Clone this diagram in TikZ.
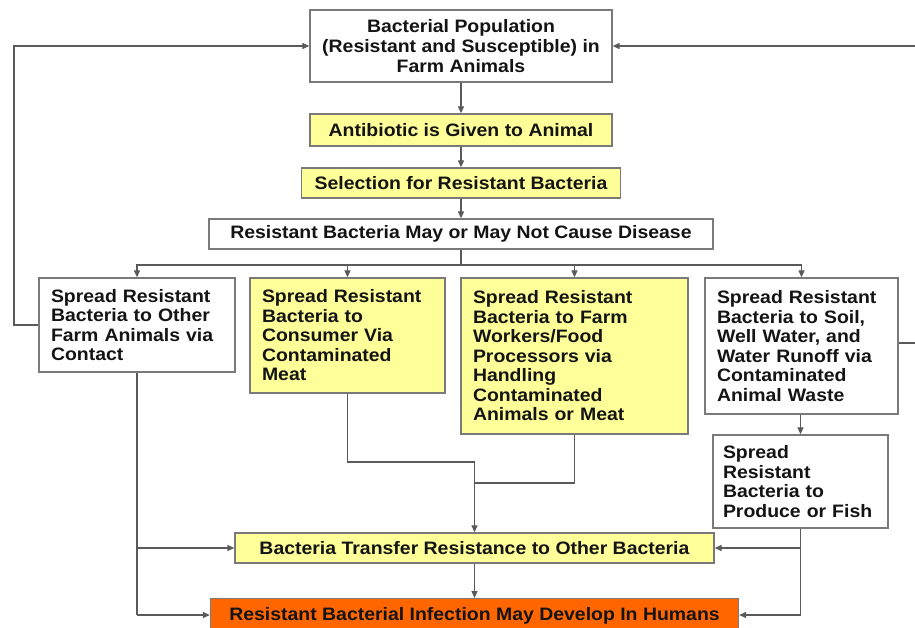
\documentclass[tikz,border=0pt]{standalone}
\usepackage{fontspec}
\setmainfont{Liberation Sans}[FakeStretch=1.08]
\usetikzlibrary{arrows.meta}
\definecolor{boxy}{HTML}{FFFF99}
\definecolor{boxo}{HTML}{FF6600}
\definecolor{edgec}{HTML}{7A7A7A}
\definecolor{linec}{HTML}{5A5A5A}
\definecolor{txtc}{HTML}{141414}
\begin{document}
\begin{tikzpicture}[x=1pt,y=-1pt,
  box/.style={draw=edgec, line width=1.3pt, text=txtc, font=\bfseries\fontsize{18}{19.5}\selectfont, inner sep=0pt, align=center},
  mbox/.style={box, align=left, inner xsep=12pt},
  ybox/.style={fill=boxy},
  wire/.style={draw=linec, line width=1.2pt},
  arr/.style={wire, -{Triangle[length=7pt,width=6pt]}}]
\useasboundingbox (0,0) rectangle (915,628);
\fill[white] (0,0) rectangle (915,628);

\node[box, minimum width=302pt, minimum height=72pt, font=\bfseries\fontsize{18}{20}\selectfont] (top) at (461,46) {Bacterial Population\\(Resistant and Susceptible) in\\Farm Animals};
\node[box, ybox, minimum width=302pt, minimum height=32pt] (anti) at (461,130) {Antibiotic is Given to Animal};
\node[box, ybox, minimum width=319pt, minimum height=30pt] (sel) at (461,183) {Selection for Resistant Bacteria};
\node[box, minimum width=504pt, minimum height=30pt] (may) at (461,234) {Resistant Bacteria May or May Not Cause Disease};

\node[mbox, text width=172pt, minimum height=94pt] (b1) at (137,325) {Spread Resistant\\Bacteria to Other\\Farm Animals via\\Contact};
\node[mbox, ybox, text width=171pt, minimum height=115pt] (b2) at (347.5,335.5) {Spread Resistant\\Bacteria to\\Consumer Via\\Contaminated\\Meat};
\node[mbox, ybox, text width=203pt, minimum height=156pt] (b3) at (574.5,356) {Spread Resistant\\Bacteria to Farm\\Workers/Food\\Processors via\\Handling\\Contaminated\\Animals or Meat};
\node[mbox, text width=169pt, minimum height=136pt] (b4) at (801.5,346) {Spread Resistant\\Bacteria to Soil,\\Well Water, and\\Water Runoff via\\Contaminated\\Animal Waste};
\node[mbox, inner xsep=10pt, text width=155pt, minimum height=93pt] (b5) at (800.5,481.5) {Spread\\Resistant\\Bacteria to\\Produce or Fish};

\node[box, ybox, minimum width=479pt, minimum height=30pt] (tr) at (474.5,548) {Bacteria Transfer Resistance to Other Bacteria};
\node[box, fill=boxo, minimum width=528pt, minimum height=34pt, anchor=north] (hum) at (474.5,598) {Resistant Bacterial Infection May Develop In Humans};

% main chain
\draw[arr] (top) -- (anti);
\draw[arr] (anti) -- (sel);
\draw[arr] (sel) -- (may);
\coordinate (split) at (461,265);
\draw[wire] (may.south) -- (split);
\draw[arr] (split) -| (b1.north);
\draw[arr] (split) -| (b2.north);
\draw[arr] (split) -| (b3.north);
\draw[arr] (split) -| (b4.north);
\draw[arr] (b4.south -| b5.north) -- (b5.north);

% feedback loops
\coordinate (lloop) at (14,325);
\draw[arr] (b1.west) -- (lloop) |- (top.west);
\coordinate (rloop) at (935,343);
\draw[arr] (b4.east |- rloop) -- (rloop) |- (top.east);

% merge to transfer
\coordinate (j1) at (474.5,462);
\coordinate (j2) at (474.5,483);
\draw[wire] (b2.south) |- (j1);
\draw[wire] (b3.south) |- (j2);
\draw[arr] (j1) -- (tr.north);
\draw[arr] (tr) -- (hum);

% side feeds
\coordinate (l1) at (137,548);
\coordinate (l2) at (137,615);
\draw[wire] (b1.south) -- (l2);
\draw[arr] (l1) -- (tr.west |- l1);
\draw[arr] (l2) -- (hum.west |- l2);
\coordinate (r1) at (800.5,548);
\coordinate (r2) at (800.5,615);
\draw[wire] (b5.south) -- (r2);
\draw[arr] (r1) -- (tr.east |- r1);
\draw[arr] (r2) -- (hum.east |- r2);
\end{tikzpicture}
\end{document}
